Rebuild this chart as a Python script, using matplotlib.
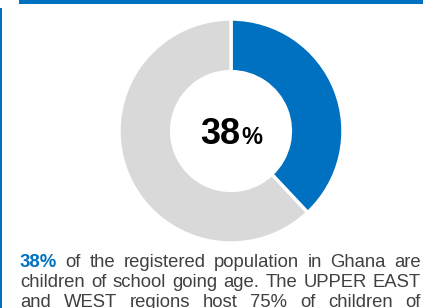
import matplotlib
matplotlib.use("Agg")
import matplotlib.pyplot as plt
from matplotlib.patches import Rectangle

# data
labels = ["School going age", "Other"]
shares = [38, 62]
colors = ["#0070C0", "#D9D9D9"]
center_value = "38"
center_unit = "%"
lines = [
    ["38%", "of", "the", "registered", "population", "in", "Ghana", "are"],
    ["children", "of", "school", "going", "age.", "The", "UPPER", "EAST"],
    ["and", "WEST", "regions", "host", "75%", "of", "children", "of"],
]

W, H = 423, 308
fig = plt.figure(figsize=(W / 100, H / 100), dpi=100)
fig.patch.set_facecolor("white")

# frame decorations: top bar and left rule
fig.add_artist(Rectangle((19 / W, 1 - 3.5 / H), 1, 3.5 / H, transform=fig.transFigure,
                         color="#0070C0", lw=0))
fig.add_artist(Rectangle((0, 0), 2 / W, 1 - 8 / H, transform=fig.transFigure,
                         color="#0070C0", lw=0))

# donut
cx, cy, r = 231, 131, 112
ax = fig.add_axes([(cx - r) / W, (H - cy - r) / H, 2 * r / W, 2 * r / H])
ax.pie(shares, colors=colors, startangle=90, counterclock=False, radius=1,
       wedgeprops=dict(width=0.47, edgecolor="white", linewidth=2.5))
ax.set_xlim(-1, 1)
ax.set_ylim(-1, 1)
ax.set_aspect("auto")
ax.axis("off")

fig.text(200 / W, 1 - 144 / H, center_value, fontsize=26, fontweight="bold",
         family="Liberation Sans", color="black", va="baseline", ha="left")
fig.text(241 / W, 1 - 144 / H, center_unit, fontsize=17, fontweight="bold",
         family="Liberation Sans", color="black", va="baseline", ha="left")

# justified paragraph
fig.canvas.draw()
renderer = fig.canvas.get_renderer()
x0, x1 = 20, 421
baselines = [267, 287, 307]
txt_color = "#404040"
for words, base in zip(lines, baselines):
    arts = []
    for i, w in enumerate(words):
        first = (w == "38%" and i == 0 and base == baselines[0])
        t = fig.text(0, 1 - base / H, w, fontsize=13.3, family="Liberation Sans",
                     fontweight="bold" if first else "normal",
                     color="#0070C0" if first else txt_color, va="baseline")
        arts.append(t)
    widths = [a.get_window_extent(renderer).width for a in arts]
    gap = (x1 - x0 - sum(widths)) / (len(words) - 1)
    x = x0
    for a, wd in zip(arts, widths):
        a.set_x(x / W)
        x += wd + gap

fig.savefig("out.png", dpi=100)
